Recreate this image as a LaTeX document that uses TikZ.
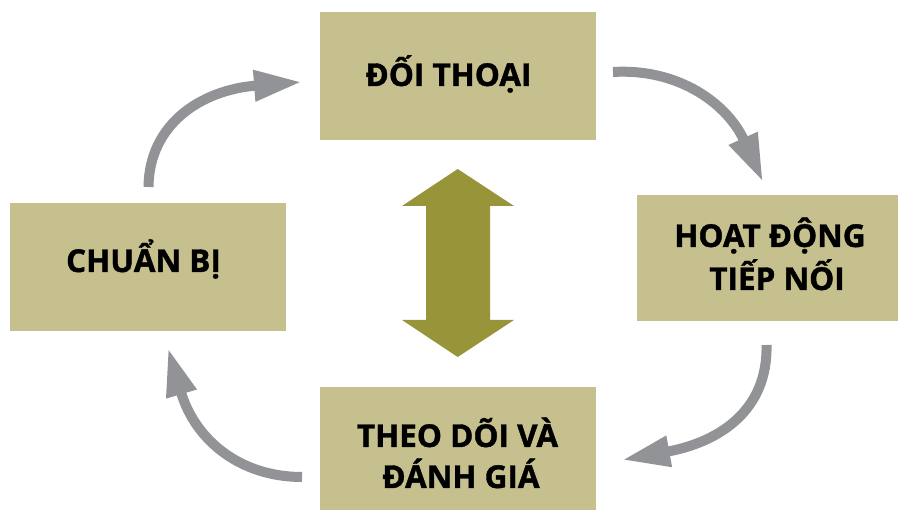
\documentclass[tikz,border=0pt]{standalone}
\usepackage{fontspec}
\setmainfont{Open Sans}[BoldFeatures={FakeBold=1.2}]
\usetikzlibrary{arrows.meta}
\definecolor{boxc}{RGB}{197,192,142}
\definecolor{arrowolive}{RGB}{152,148,58}
\definecolor{grayarr}{RGB}{146,147,151}
\begin{document}
\begin{tikzpicture}[x=1pt,y=-1pt,
  box/.style={fill=boxc, draw=none, rectangle, inner sep=0pt},
  lbl/.style={anchor=base, inner sep=0pt, font=\bfseries\fontsize{31.5}{36}\selectfont},
  cyc/.style={draw=grayarr, line width=10pt, -{Triangle[length=48pt,width=29pt]}}]
\useasboundingbox (0,0) rectangle (903,510);
% boxes
\node[box, minimum width=276pt, minimum height=128pt] (top) at (458,76) {};
\node[box, minimum width=261pt, minimum height=126pt] (right) at (767.5,258) {};
\node[box, minimum width=276pt, minimum height=126pt] (bottom) at (458,450) {};
\node[box, minimum width=276pt, minimum height=128pt] (left) at (148,267) {};
% labels
\node[lbl] (t1) at (448.5,86) {ĐỐI THOẠI};
\node[lbl] (r1) at (770,247) {HOẠT ĐỘNG};
\node[lbl] (r2) at (777,290) {TIẾP NỐI};
\node[lbl] (b1) at (457.5,447) {THEO DÕI VÀ};
\node[lbl] (b2) at (461,488) {ĐÁNH GIÁ};
\node[lbl] (l1) at (143.5,272) {CHUẨN BỊ};
% double arrow
\fill[arrowolive] (457.7,169) -- (514,206) -- (490,206) -- (490,320) -- (514,320)
  -- (457.7,357) -- (402,320) -- (426,320) -- (426,206) -- (402,206) -- cycle;
% cycle arrows
\coordinate (a1s) at (148.5,187);
\coordinate (a1e) at (302,82);
\coordinate (a2s) at (613,72);
\coordinate (a2e) at (763,182);
\coordinate (a3s) at (766.5,345);
\coordinate (a3e) at (622,460);
\coordinate (a4s) at (302,477);
\coordinate (a4e) at (168,348);
\draw[cyc] (a1s) .. controls (149,125) and (200,90) .. (a1e);
\draw[cyc] (a2s) .. controls (680,68) and (728,105) .. (a2e);
\draw[cyc] (a3s) .. controls (768,410) and (720,442) .. (a3e);
\draw[cyc] (a4s) .. controls (240,477) and (195,440) .. (a4e);
\end{tikzpicture}
\end{document}
